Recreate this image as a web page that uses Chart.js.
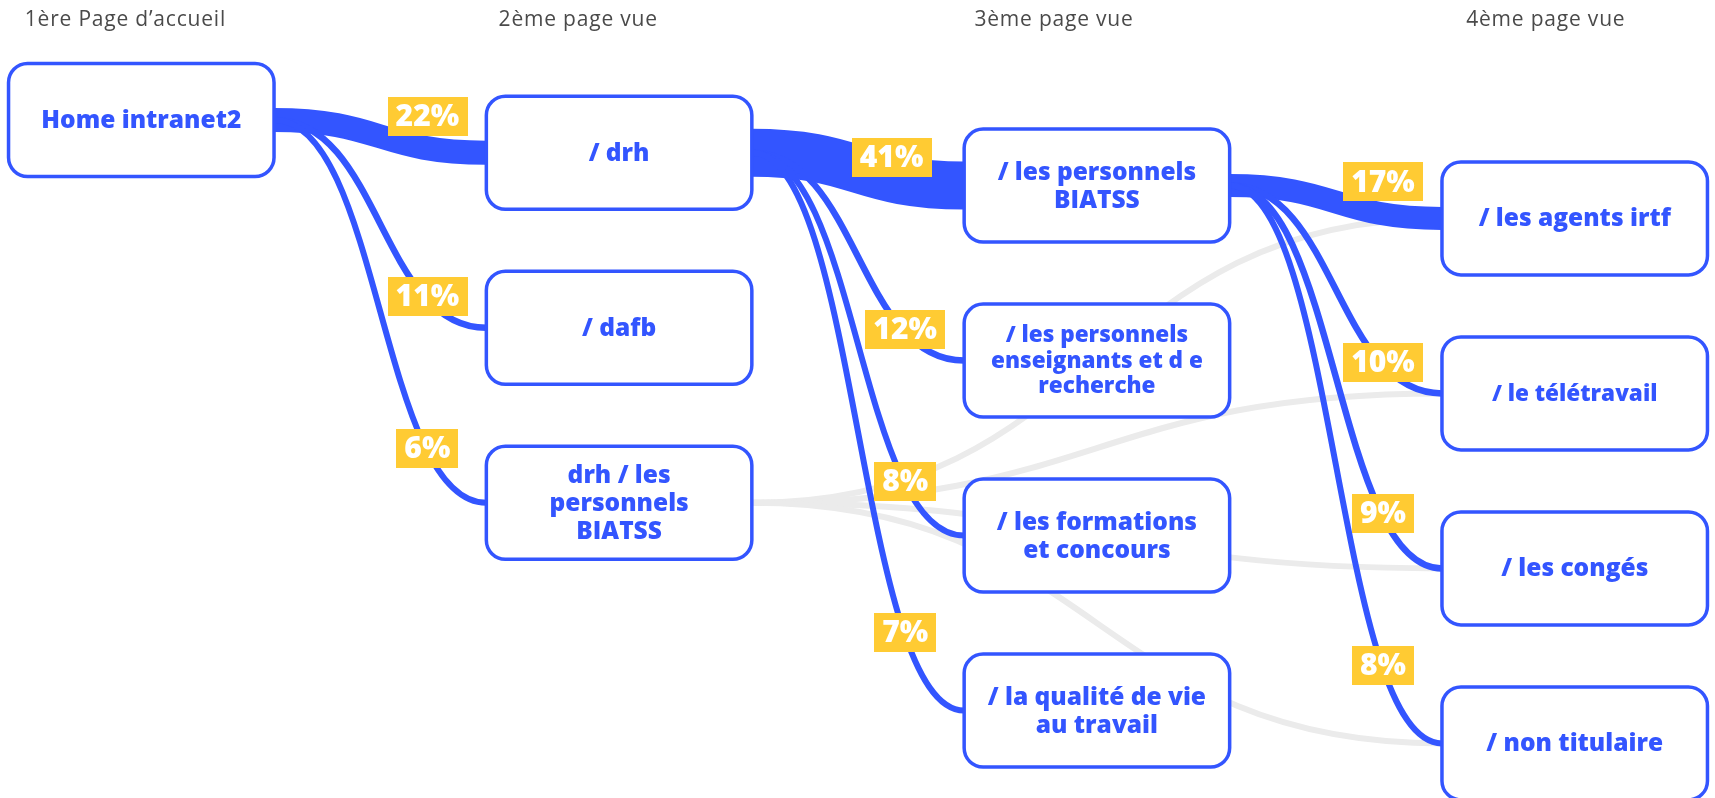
<!DOCTYPE html>
<html>
<head>
<meta charset="utf-8">
<script src="https://cdn.jsdelivr.net/npm/chart.js@4/dist/chart.umd.min.js"></script>
<style>
html,body{margin:0;padding:0;background:#ffffff;}
#wrap{width:1715px;height:798px;position:relative;}
</style>
</head>
<body>
<div id="wrap"><canvas id="c" width="1715" height="798"></canvas></div>
<script>
// ---------- DATA ----------
const columnTitles = ["1ère Page d’accueil", "2ème page vue", "3ème page vue", "4ème page vue"];

const nodeLabels = [
  "Home intranet2",
  "/ drh",
  "/ dafb",
  "drh / les\npersonnels\nBIATSS",
  "/ les personnels\nBIATSS",
  "/ les personnels\nenseignants et d e\nrecherche",
  "/ les formations\net concours",
  "/ la qualité de vie\nau travail",
  "/ les agents irtf",
  "/ le télétravail",
  "/ les congés",
  "/ non titulaire"
];
const nodeColumn = [0, 1, 1, 1, 2, 2, 2, 2, 3, 3, 3, 3];
const nodeRow    = [0, 0, 1, 2, 0, 1, 2, 3, 0, 1, 2, 3];

const linkSource  = [0, 0, 0, 1, 1, 1, 1, 4, 4, 4, 4, 3, 3, 3, 3];
const linkTarget  = [1, 2, 3, 4, 5, 6, 7, 8, 9, 10, 11, 8, 9, 10, 11];
const linkPercent = [22, 11, 6, 41, 12, 8, 7, 17, 10, 9, 8, null, null, null, null];
const linkFlow    = [24, 6.5, 6, 48, 6.5, 6, 6, 23, 6.5, 6.5, 6, 6, 6, 6, 6];
const linkOnPath  = [true, true, true, true, true, true, true, true, true, true, true, false, false, false, false];

// ---------- STYLE / LAYOUT ----------
const BLUE = '#3355FF', YELLOW = '#FFCB33', GRAY = '#EBEBEB', HEAD = '#4A4A4A';
const BOX_W = 265.5, BOX_H = 113, BOX_R = 19, BOX_LW = 3.5;
const ROW_STAGGER = 0.1874;          // vertical shift of each column, in row units
const FLOW_PX = 1;                   // pixels per flow unit
const smallNodes = [5, 9];

function bez(x0, y0, x3, y3, t) {
  const mx = (x0 + x3) / 2, u = 1 - t;
  const x = u*u*u*x0 + 3*u*u*t*mx + 3*u*t*t*mx + t*t*t*x3;
  const y = u*u*u*y0 + 3*u*u*t*y0 + 3*u*t*t*y3 + t*t*t*y3;
  return {x, y};
}

function roundRect(ctx, x, y, w, h, r) {
  ctx.beginPath();
  ctx.moveTo(x + r, y);
  ctx.lineTo(x + w - r, y);
  ctx.arcTo(x + w, y, x + w, y + r, r);
  ctx.lineTo(x + w, y + h - r);
  ctx.arcTo(x + w, y + h, x + w - r, y + h, r);
  ctx.lineTo(x + r, y + h);
  ctx.arcTo(x, y + h, x, y + h - r, r);
  ctx.lineTo(x, y + r);
  ctx.arcTo(x, y, x + r, y, r);
  ctx.closePath();
}

const flowPlugin = {
  id: 'flow',
  afterDatasetsDraw(chart) {
    const ctx = chart.ctx;
    const meta = chart.getDatasetMeta(0);
    const xs = chart.scales.x;
    const P = i => ({x: meta.data[i].x, y: meta.data[i].y});
    ctx.save();

    // column titles
    ctx.font = '400 21px "Open Sans"';
    ctx.fillStyle = HEAD;
    ctx.textAlign = 'left';
    ctx.textBaseline = 'middle';
    try { ctx.letterSpacing = '0.8px'; } catch(e) {}
    const headShift = [2, -2, -4, 10];
    columnTitles.forEach((t, c) => {
      const left = xs.getPixelForValue(c) - BOX_W / 2 - BOX_LW / 2;
      ctx.fillText(t, left + 16 + headShift[c], 20);
    });
    try { ctx.letterSpacing = '0px'; } catch(e) {}

    // links: gray first, then blue
    const order = linkSource.map((_, i) => i).sort((a, b) => (linkOnPath[a] ? 1 : 0) - (linkOnPath[b] ? 1 : 0));
    ctx.lineCap = 'butt';
    order.forEach(i => {
      const s = P(linkSource[i]), t = P(linkTarget[i]);
      const x0 = s.x + BOX_W / 2, x3 = t.x - BOX_W / 2;
      const mx = (x0 + x3) / 2;
      ctx.beginPath();
      ctx.moveTo(x0 - 2, s.y);
      ctx.lineTo(x0, s.y);
      ctx.bezierCurveTo(mx, s.y, mx, t.y, x3, t.y);
      ctx.lineTo(x3 + 2, t.y);
      ctx.strokeStyle = linkOnPath[i] ? BLUE : GRAY;
      ctx.lineWidth = linkFlow[i] * FLOW_PX;
      ctx.stroke();
    });

    // node boxes
    nodeLabels.forEach((lab, i) => {
      const p = P(i);
      roundRect(ctx, p.x - BOX_W / 2, p.y - BOX_H / 2, BOX_W, BOX_H, BOX_R);
      ctx.fillStyle = '#ffffff';
      ctx.fill();
      ctx.lineWidth = BOX_LW;
      ctx.strokeStyle = BLUE;
      ctx.stroke();
      const small = smallNodes.includes(i);
      const fs = small ? 22.5 : 24.5;
      const lh = small ? 25.5 : 28;
      ctx.font = '800 ' + fs + 'px "Open Sans"';
      ctx.fillStyle = BLUE;
      ctx.textAlign = 'center';
      ctx.textBaseline = 'middle';
      const lines = lab.split('\n');
      lines.forEach((ln, k) => {
        ctx.fillText(ln, p.x, p.y + (k - (lines.length - 1) / 2) * lh + 1);
      });
    });

    // percentage labels
    ctx.font = '800 30px "Open Sans"';
    ctx.textAlign = 'center';
    ctx.textBaseline = 'middle';
    linkPercent.forEach((pct, i) => {
      if (pct === null) return;
      const s = P(linkSource[i]), t = P(linkTarget[i]);
      const x0 = s.x + BOX_W / 2, x3 = t.x - BOX_W / 2;
      const w = linkFlow[i] * FLOW_PX;
      const thick = w > 12;
      const b = bez(x0, s.y, x3, t.y, thick && w > 30 ? 0.7 : 0.77);
      const lift = thick ? (w > 30 ? 21 : 32) : 3;
      const txt = pct + '%';
      const tw = ctx.measureText(txt).width + 16;
      const th = 39;
      const cx = b.x, cy = b.y - lift;
      ctx.fillStyle = YELLOW;
      ctx.fillRect(Math.round(cx - tw / 2), Math.round(cy - th / 2), Math.round(tw), th);
      ctx.fillStyle = '#ffffff';
      ctx.fillText(txt, cx, cy + 1);
    });

    ctx.restore();
  }
};

const chart = new Chart(document.getElementById('c'), {
  type: 'scatter',
  data: {
    datasets: [{
      data: nodeColumn.map((c, i) => ({x: c, y: nodeRow[i] + c * ROW_STAGGER})),
      pointRadius: 0,
      pointHoverRadius: 0
    }]
  },
  options: {
    responsive: false,
    animation: false,
    events: [],
    layout: { padding: 0 },
    plugins: { legend: { display: false }, tooltip: { enabled: false } },
    scales: {
      x: { type: 'linear', min: -0.2957, max: 3.2936, display: false },
      y: { type: 'linear', min: -0.6857, max: 3.8743, reverse: true, display: false }
    }
  },
  plugins: [flowPlugin]
});
</script>
</body>
</html>
